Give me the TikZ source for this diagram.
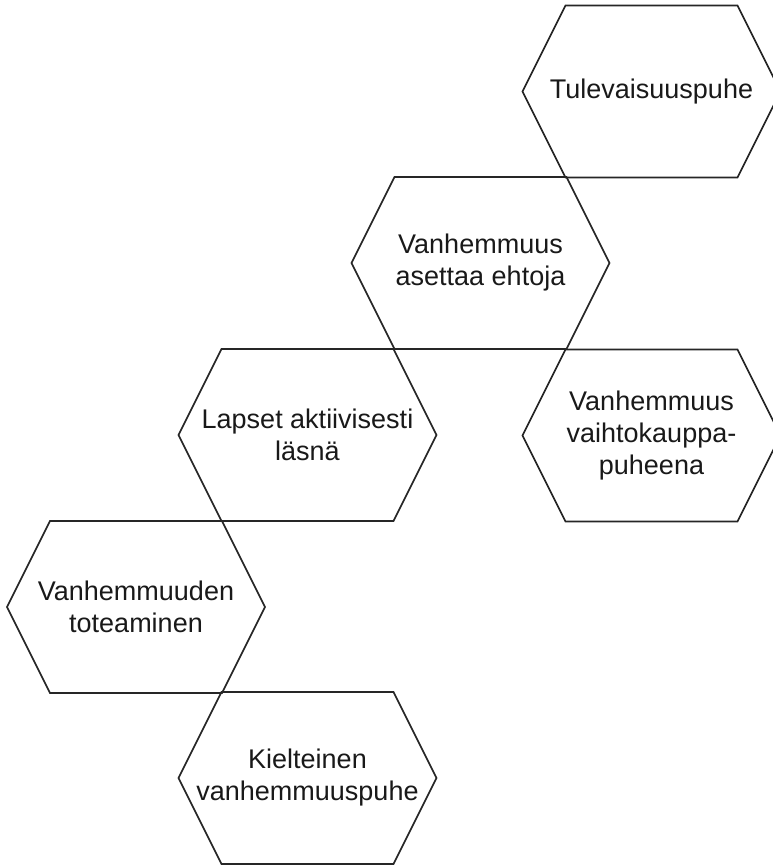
\documentclass[tikz,border=0pt]{standalone}
\usepackage{fontspec}
\setmainfont{Liberation Sans}
\begin{document}
\begin{tikzpicture}[x=1pt,y=-1pt,
  hexline/.style={draw=black!85,line width=1.6pt,line join=miter},
  hextext/.style={align=center,font=\fontsize{27}{32}\selectfont,text=black!90,inner sep=0pt}]
\useasboundingbox (0,0) rectangle (773,867);
\clip (0,0) rectangle (773,867);
\coordinate (c1) at (651.5,91.5);
\coordinate (c2) at (480.5,263);
\coordinate (c3) at (651.5,435.5);
\coordinate (c4) at (307.5,435);
\coordinate (c5) at (136,607);
\coordinate (c6) at (307.5,778);
\foreach \c in {c1,c2,c3,c4,c5,c6}{
  \draw[hexline,shift={(\c)}] (-129,0) -- (-86,-86) -- (86,-86) -- (129,0) -- (86,86) -- (-86,86) -- cycle;
}
\node[hextext] (t1) at (c1) {Tulevaisuuspuhe};
\node[hextext] (t2) at (c2) {Vanhemmuus\\asettaa ehtoja};
\node[hextext] (t3) at (c3) {Vanhemmuus\\vaihtokauppa-\\puheena};
\node[hextext] (t4) at (c4) {Lapset aktiivisesti\\läsnä};
\node[hextext] (t5) at (c5) {Vanhemmuuden\\toteaminen};
\node[hextext] (t6) at (c6) {Kielteinen\\vanhemmuuspuhe};
\end{tikzpicture}
\end{document}
